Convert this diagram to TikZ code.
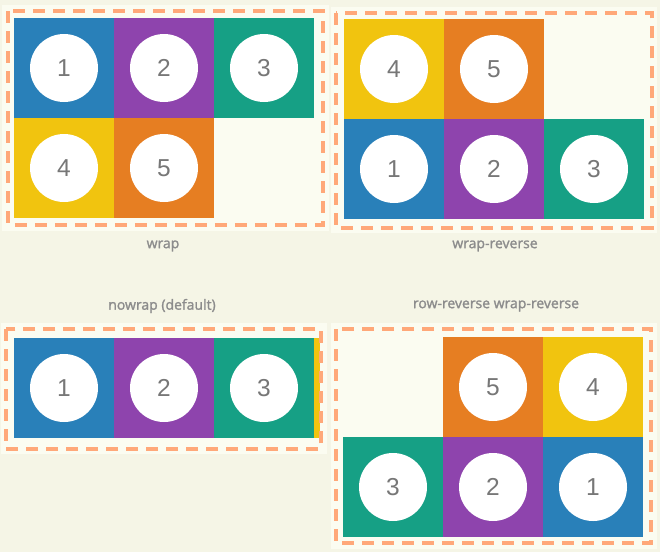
\documentclass[tikz,border=0pt]{standalone}
\usepackage{fontspec}
\setmainfont{Liberation Sans}
\newfontfamily\capfont{Open Sans}[FakeBold=1.6]
\definecolor{bgouter}{HTML}{F5F5E6}
\definecolor{bginner}{HTML}{FBFCF1}
\definecolor{frameline}{HTML}{FFA879}
\definecolor{itemblue}{HTML}{2980B9}
\definecolor{itempurple}{HTML}{8E44AD}
\definecolor{itemteal}{HTML}{16A085}
\definecolor{itemyellow}{HTML}{F1C40F}
\definecolor{itemorange}{HTML}{E67E22}
\definecolor{digitgray}{HTML}{777777}
\definecolor{capgray}{HTML}{8C8C8C}

\begin{document}
\begin{tikzpicture}[
    x=1pt, y=-1pt,
    cell/.style={minimum size=100pt, inner sep=0pt, outer sep=0pt, anchor=north west},
    disc/.style={circle, fill=white, minimum size=68pt, inner sep=0pt,
                 font=\fontsize{24.5}{25}\selectfont, text=digitgray},
    dashframe/.style={draw=frameline, line width=4pt, dash pattern=on 12pt off 8pt},
    panelbg/.style={fill=bginner},
    captxt/.style={font=\capfont\fontsize{14}{16}\selectfont, text=capgray}
]
    % ---- page background ----
    \fill[bgouter] (0,0) rectangle (660,552);
    \useasboundingbox (0,0) rectangle (660,552);

    % ---- panel backgrounds ----
    \fill[panelbg] (2,5)   rectangle (329,231);
    \fill[panelbg] (331,7) rectangle (657,233);
    \fill[panelbg] (1,323) rectangle (327,454);
    \fill[panelbg] (331,323) rectangle (657,549);

    % ================= wrap =================
    \foreach \n/\x/\y/\col in {1/14/18/itemblue, 2/114/18/itempurple, 3/214/18/itemteal,
                               4/14/118/itemyellow, 5/114/118/itemorange} {
        \node[cell, fill=\col] (w\n) at (\x,\y) {};
        \node[disc] (w\n d) at (w\n.center) {\n};
    }
    \draw[dashframe] (8.3,11.3) rectangle (323,224.7);
    \node[captxt] (wcap) at (163,246) {wrap};

    % ================= wrap-reverse =================
    \foreach \n/\x/\y/\col in {4/344/19/itemyellow, 5/444/19/itemorange,
                               1/344/119/itemblue, 2/444/119/itempurple, 3/544/119/itemteal} {
        \node[cell, fill=\col] (wr\n) at (\x,\y) {};
        \node[disc] (wr\n d) at (wr\n.center) {\n};
    }
    \draw[dashframe] (336,13.3) rectangle (651.7,228);
    \node[captxt] (wrcap) at (495,246) {wrap-reverse};

    % ================= nowrap (default) =================
    \node[captxt] (nwcap) at (162,306) {nowrap (default)};
    \foreach \n/\x/\col in {1/14/itemblue, 2/114/itempurple, 3/214/itemteal} {
        \node[cell, fill=\col] (nw\n) at (\x,338) {};
        \node[disc] (nw\n d) at (nw\n.center) {\n};
    }
    \fill[itemyellow] (314,338) rectangle (320,438);
    \draw[dashframe] (6,329) rectangle (321,448.7);

    % ================= row-reverse wrap-reverse =================
    \node[captxt] (rrcap) at (496,306) {row-reverse wrap-reverse};
    \foreach \n/\x/\y/\col in {5/443/337/itemorange, 4/543/337/itemyellow,
                               3/343/437/itemteal, 2/443/437/itempurple, 1/543/437/itemblue} {
        \node[cell, fill=\col] (rr\n) at (\x,\y) {};
        \node[disc] (rr\n d) at (rr\n.center) {\n};
    }
    \draw[dashframe] (336,329) rectangle (651,543);
\end{tikzpicture}
\end{document}
